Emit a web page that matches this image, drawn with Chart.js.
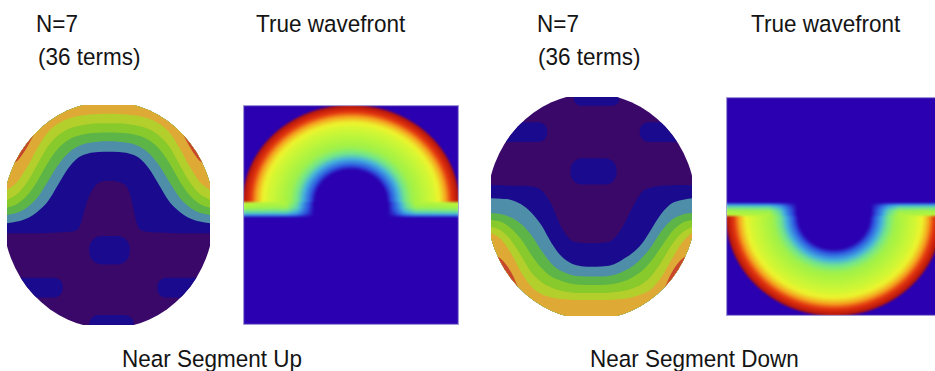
<!DOCTYPE html>
<html>
<head>
<meta charset="utf-8">
<script src="https://cdn.jsdelivr.net/npm/chart.js@4.4.1/dist/chart.umd.min.js"></script>
<style>
  html, body { margin: 0; padding: 0; background: #fff; width: 935px; height: 371px; overflow: hidden; position: relative; }
  .panel { position: absolute; }
  .panel canvas { display: block; }
  .lbl { position: absolute; font-family: "Liberation Sans", Arial, sans-serif; font-size: 22.5px; color: #141414;
         white-space: nowrap; line-height: normal; transform: scaleY(1.1); transform-origin: left top; }
</style>
</head>
<body>
<div class="lbl" style="left:36px;top:10px">N=7</div>
<div class="lbl" style="left:38px;top:43px">(36 terms)</div>
<div class="lbl" style="left:256px;top:10px">True wavefront</div>
<div class="lbl" style="left:537px;top:10px">N=7</div>
<div class="lbl" style="left:538px;top:43px">(36 terms)</div>
<div class="lbl" style="left:751px;top:10px">True wavefront</div>
<div class="lbl" style="left:122px;top:345px">Near Segment Up</div>
<div class="lbl" style="left:590px;top:345px">Near Segment Down</div>

<div class="panel" style="left:7px;top:105px"><canvas id="fitUp" width="203" height="220"></canvas></div>
<div class="panel" style="left:243px;top:105px"><canvas id="trueUp" width="216" height="220"></canvas></div>
<div class="panel" style="left:491px;top:97px"><canvas id="fitDown" width="201" height="219"></canvas></div>
<div class="panel" style="left:726px;top:97px"><canvas id="trueDown" width="216" height="219"></canvas></div>

<script>
// Normalised pupil x positions where the contour boundaries are sampled
const pupilX = [-1, -0.9, -0.8, -0.7, -0.6, -0.5, -0.4, -0.3, -0.2, -0.1, 0, 0.1, 0.2, 0.3, 0.4, 0.5, 0.6, 0.7, 0.8, 0.9, 1];

// N=7 fit, segment up: contour boundaries y(x), outermost level first
const upRed    = [0.45, 0.49, 0.62, 0.8, 1.0, 1.1, 1.1, 1.1, 1.1, 1.1, 1.1, 1.1, 1.1, 1.1, 1.1, 1.1, 1.0, 0.8, 0.62, 0.49, 0.45];
const upGold   = [0.227, 0.3, 0.44, 0.61, 0.75, 0.83, 0.875, 0.9, 0.912, 0.918, 0.92, 0.918, 0.912, 0.9, 0.875, 0.83, 0.75, 0.61, 0.44, 0.3, 0.227];
const upYellow = [0.136, 0.19, 0.3, 0.46, 0.62, 0.72, 0.78, 0.81, 0.826, 0.833, 0.835, 0.833, 0.826, 0.81, 0.78, 0.72, 0.62, 0.46, 0.3, 0.19, 0.136];
const upLime   = [0.065, 0.1, 0.18, 0.31, 0.47, 0.6, 0.68, 0.72, 0.74, 0.748, 0.75, 0.748, 0.74, 0.72, 0.68, 0.6, 0.47, 0.31, 0.18, 0.1, 0.065];
const upGreen  = [0.0, 0.02, 0.07, 0.16, 0.3, 0.45, 0.56, 0.625, 0.655, 0.667, 0.67, 0.667, 0.655, 0.625, 0.56, 0.45, 0.3, 0.16, 0.07, 0.02, 0.0];
const upTeal   = [-0.075, -0.06, -0.03, 0.03, 0.12, 0.27, 0.42, 0.52, 0.56, 0.572, 0.575, 0.572, 0.56, 0.52, 0.42, 0.27, 0.12, 0.03, -0.03, -0.06, -0.075];
const upNavy   = [-0.167, -0.167, -0.165, -0.165, -0.163, -0.16, -0.155, -0.13, 0.15, 0.29, 0.312, 0.3, 0.22, -0.12, -0.155, -0.16, -0.163, -0.165, -0.165, -0.167, -0.167];

// N=7 fit, segment down: contour boundaries y(x), outermost level first
const downRed    = [-0.42, -0.48, -0.6, -0.8, -1.0, -1.1, -1.1, -1.1, -1.1, -1.1, -1.1, -1.1, -1.1, -1.1, -1.1, -1.1, -1.0, -0.8, -0.6, -0.48, -0.42];
const downGold   = [-0.24, -0.3, -0.43, -0.6, -0.73, -0.8, -0.83, -0.845, -0.852, -0.855, -0.855, -0.855, -0.852, -0.845, -0.83, -0.8, -0.75, -0.64, -0.48, -0.33, -0.24];
const downYellow = [-0.184, -0.22, -0.31, -0.45, -0.6, -0.69, -0.74, -0.77, -0.785, -0.79, -0.79, -0.79, -0.785, -0.775, -0.75, -0.71, -0.63, -0.5, -0.35, -0.24, -0.184];
const downLime   = [-0.123, -0.14, -0.2, -0.3, -0.44, -0.56, -0.64, -0.68, -0.705, -0.715, -0.717, -0.717, -0.71, -0.69, -0.65, -0.59, -0.49, -0.36, -0.23, -0.15, -0.123];
const downGreen  = [-0.06, -0.07, -0.1, -0.16, -0.26, -0.4, -0.52, -0.59, -0.625, -0.638, -0.64, -0.64, -0.63, -0.6, -0.55, -0.47, -0.36, -0.22, -0.12, -0.075, -0.06];
const downTeal   = [0.075, 0.07, 0.06, 0.02, -0.055, -0.17, -0.33, -0.455, -0.52, -0.545, -0.55, -0.548, -0.535, -0.49, -0.43, -0.34, -0.2, -0.06, 0.03, 0.06, 0.075];
const downNavy   = [0.196, 0.195, 0.19, 0.19, 0.185, 0.15, 0.02, -0.19, -0.31, -0.33, -0.336, -0.33, -0.31, -0.2, -0.02, 0.13, 0.175, 0.19, 0.195, 0.196, 0.196];

// Closed low-level islands inside the floor region (centre x, centre y, half width, half height)
const upIslandX = [0.01, -0.72, 0.75, 0.03];
const upIslandY = [-0.32, -0.66, -0.66, -1.0];
const upIslandW = [0.2, 0.27, 0.27, 0.22];
const upIslandH = [0.13, 0.09, 0.09, 0.09];
const downIslandX = [0.02, -0.7, 0.74, 0.05];
const downIslandY = [0.32, 0.68, 0.68, 1.0];
const downIslandW = [0.23, 0.26, 0.26, 0.23];
const downIslandH = [0.12, 0.09, 0.09, 0.08];

// True wavefront: normalised level across the segment radius
const wfRadius = [0, 0.33, 0.37, 0.43, 0.49, 0.56, 0.66, 0.76, 0.83, 0.88, 0.92, 0.96, 1.0];
const wfValue  = [0, 0, 0.1, 0.26, 0.42, 0.53, 0.59, 0.65, 0.72, 0.8, 0.88, 0.94, 1.0];
// Lip just past the segment's straight edge: level versus |x|
const lipRadius = [0, 0.34, 0.42, 0.5, 0.6, 1.0];
const lipValue  = [0, 0, 0.18, 0.42, 0.58, 0.61];
const lipDepthUp = 0.155;
const lipDepthDown = 0.13;

// ---- styling ----
const bandColors = ['#c8462c', '#dfa936', '#b3cf2c', '#88c92c', '#5db548', '#4f8ea8', '#1a0b8e'];
const floorColor = '#3a0869';
const islandColor = '#1a0b8e';
const PUPIL_A = 1.04, PUPIL_B = 1.03;
const lipFadeAt = [0, 0.4, 0.75, 1];
const lipFade   = [1, 0.9, 0.6, 0.12];
const cmapStops = [
  [0.00, [42, 0, 176]],
  [0.12, [45, 90, 225]],
  [0.30, [70, 180, 220]],
  [0.45, [120, 232, 130]],
  [0.55, [165, 242, 68]],
  [0.62, [198, 246, 55]],
  [0.70, [236, 245, 45]],
  [0.80, [245, 160, 30]],
  [0.90, [225, 50, 15]],
  [1.00, [170, 15, 10]]
];

function lookup(xs, ys, v) {
  if (v <= xs[0]) return ys[0];
  for (let i = 1; i < xs.length; i++) {
    if (v <= xs[i]) {
      const t = (v - xs[i - 1]) / (xs[i] - xs[i - 1]);
      return ys[i - 1] + t * (ys[i] - ys[i - 1]);
    }
  }
  return ys[ys.length - 1];
}

function colormap(v) {
  v = Math.max(0, Math.min(1, v));
  for (let i = 1; i < cmapStops.length; i++) {
    if (v <= cmapStops[i][0]) {
      const [a, ca] = cmapStops[i - 1], [b, cb] = cmapStops[i];
      const t = (v - a) / (b - a);
      return [ca[0] + t * (cb[0] - ca[0]), ca[1] + t * (cb[1] - ca[1]), ca[2] + t * (cb[2] - ca[2])];
    }
  }
  return cmapStops[cmapStops.length - 1][1];
}

// Clips the fit to the elliptical pupil, paints the floor level and its islands
const pupilPlugin = {
  id: 'pupil',
  beforeDatasetsDraw(chart, args, opts) {
    const { ctx, chartArea, scales: { x, y } } = chart;
    const cx = x.getPixelForValue(0), cy = y.getPixelForValue(0);
    const rx = Math.abs(x.getPixelForValue(PUPIL_A) - cx);
    const ry = Math.abs(y.getPixelForValue(PUPIL_B) - cy);
    ctx.save();
    ctx.beginPath();
    ctx.rect(chartArea.left, chartArea.top, chartArea.width, chartArea.height);
    ctx.clip();
    ctx.beginPath();
    ctx.ellipse(cx, cy, rx, ry, 0, 0, Math.PI * 2);
    ctx.clip();
    ctx.fillStyle = floorColor;
    ctx.fillRect(chartArea.left, chartArea.top, chartArea.width, chartArea.height);
    ctx.fillStyle = islandColor;
    const I = opts.islands;
    for (let i = 0; i < I.x.length; i++) {
      const x0 = x.getPixelForValue(I.x[i] - I.w[i]), x1 = x.getPixelForValue(I.x[i] + I.w[i]);
      const y0 = y.getPixelForValue(I.y[i] + I.h[i]), y1 = y.getPixelForValue(I.y[i] - I.h[i]);
      const w = x1 - x0, h = y1 - y0;
      ctx.beginPath();
      ctx.roundRect(x0, y0, w, h, Math.min(w, h) * 0.45);
      ctx.fill();
    }
  },
  afterDatasetsDraw(chart) {
    chart.ctx.restore();
  }
};

function fitChart(id, curves, fillTo, islands) {
  const datasets = curves.map((ys, i) => ({
    data: pupilX.map((xv, k) => ({ x: xv, y: ys[k] })),
    backgroundColor: bandColors[i],
    borderColor: bandColors[i],
    borderWidth: 0,
    pointRadius: 0,
    fill: fillTo,
    cubicInterpolationMode: 'monotone'
  }));
  return new Chart(document.getElementById(id), {
    type: 'line',
    data: { datasets },
    options: {
      responsive: false, animation: false, devicePixelRatio: 1, events: [],
      layout: { padding: 0 },
      plugins: { legend: { display: false }, tooltip: { enabled: false }, pupil: { islands } },
      scales: {
        x: { type: 'linear', min: -1, max: 1, display: false },
        y: { type: 'linear', min: -1, max: 1, display: false }
      }
    },
    plugins: [pupilPlugin]
  });
}

// Paints the true wavefront field cell by cell through the chart scales
const fieldPlugin = {
  id: 'field',
  beforeDatasetsDraw(chart, args, opts) {
    const { ctx, chartArea, scales: { x, y } } = chart;
    const left = Math.round(chartArea.left), top = Math.round(chartArea.top);
    const w = Math.round(chartArea.right) - left, h = Math.round(chartArea.bottom) - top;
    const off = document.createElement('canvas');
    off.width = w; off.height = h;
    const octx = off.getContext('2d');
    const img = octx.createImageData(w, h);
    const S = 3;
    const xs = [], ys = [];
    for (let i = 0; i < w * S; i++) xs.push(x.getValueForPixel(left + (i + 0.5) / S));
    for (let j = 0; j < h * S; j++) ys.push(y.getValueForPixel(top + (j + 0.5) / S));
    const level = (xv, yv) => {
      const s = yv * opts.orient;
      if (s >= 0) {
        const r = Math.hypot(xv, s);
        return r <= 1 ? lookup(wfRadius, wfValue, r) : 0;
      }
      if (s > -opts.lipDepth) {
        return lookup(lipRadius, lipValue, Math.abs(xv)) * lookup(lipFadeAt, lipFade, -s / opts.lipDepth);
      }
      return 0;
    };
    for (let j = 0; j < h; j++) {
      for (let i = 0; i < w; i++) {
        let r = 0, g = 0, b = 0;
        for (let sj = 0; sj < S; sj++) {
          for (let si = 0; si < S; si++) {
            const c = colormap(level(xs[i * S + si], ys[j * S + sj]));
            r += c[0]; g += c[1]; b += c[2];
          }
        }
        const k = (j * w + i) * 4, n = S * S;
        img.data[k] = r / n; img.data[k + 1] = g / n; img.data[k + 2] = b / n; img.data[k + 3] = 255;
      }
    }
    octx.putImageData(img, 0, 0);
    ctx.save();
    ctx.beginPath();
    ctx.rect(left, top, w, h);
    ctx.clip();
    ctx.filter = 'blur(1px)';
    ctx.drawImage(off, left, top);
    ctx.filter = 'none';
    ctx.restore();
    ctx.save();
    ctx.strokeStyle = 'rgba(165,160,215,0.85)';
    ctx.lineWidth = 1;
    ctx.strokeRect(left + 0.5, top + 0.5, w - 1, h - 1);
    ctx.restore();
  }
};

function wavefrontChart(id, yMin, yMax, orient, lipDepth) {
  return new Chart(document.getElementById(id), {
    type: 'scatter',
    data: { datasets: [{ data: [] }] },
    options: {
      responsive: false, animation: false, devicePixelRatio: 1, events: [],
      layout: { padding: 0 },
      plugins: { legend: { display: false }, tooltip: { enabled: false }, field: { orient, lipDepth } },
      scales: {
        x: { type: 'linear', min: -1, max: 1, display: false },
        y: { type: 'linear', min: yMin, max: yMax, display: false }
      }
    },
    plugins: [fieldPlugin]
  });
}

fitChart('fitUp', [upRed, upGold, upYellow, upLime, upGreen, upTeal, upNavy], 'end',
  { x: upIslandX, y: upIslandY, w: upIslandW, h: upIslandH });
fitChart('fitDown', [downRed, downGold, downYellow, downLime, downGreen, downTeal, downNavy], 'start',
  { x: downIslandX, y: downIslandY, w: downIslandW, h: downIslandH });
wavefrontChart('trueUp', -1.27, 1.0, 1, lipDepthUp);
wavefrontChart('trueDown', -1.0, 1.19, -1, lipDepthDown);
</script>
</body>
</html>
